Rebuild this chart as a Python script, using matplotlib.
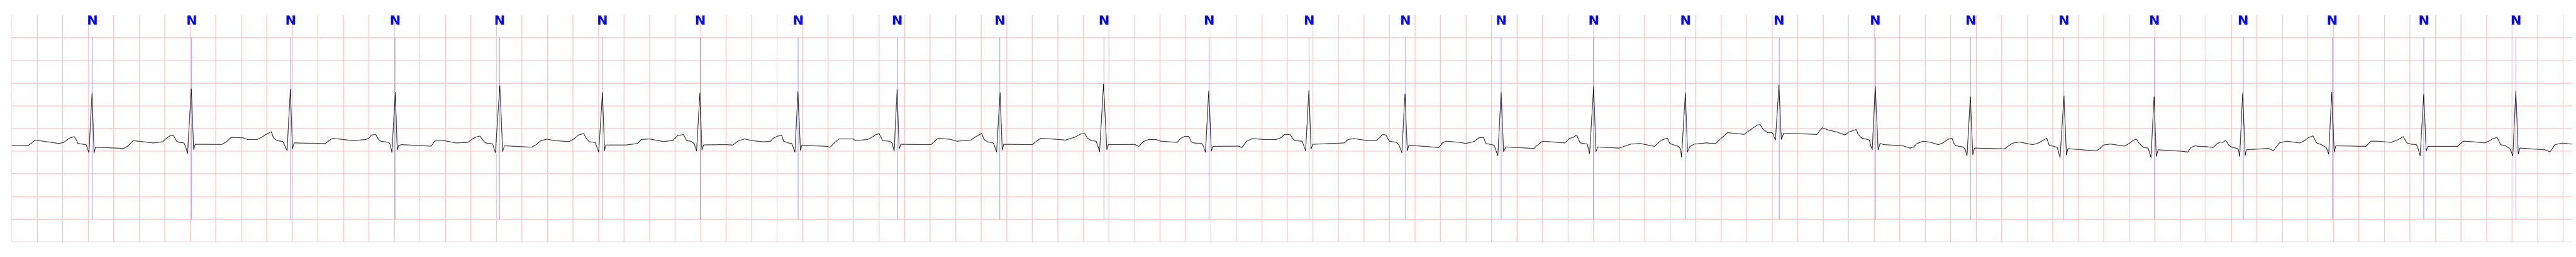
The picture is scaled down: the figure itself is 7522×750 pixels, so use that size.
import numpy as np
import matplotlib
matplotlib.use("Agg")
import matplotlib.pyplot as plt

ecg_t = [
    0.000, 0.130, 0.186, 0.371, 0.408, 0.454, 0.491, 0.510, 0.519, 0.584,
    0.606, 0.630, 0.646, 0.657, 0.879, 0.907, 0.953, 1.018, 1.111, 1.184,
    1.212, 1.240, 1.271, 1.292, 1.314, 1.351, 1.366, 1.379, 1.408, 1.427,
    1.439, 1.647, 1.684, 1.720, 1.813, 1.850, 1.924, 1.961, 1.998, 2.035,
    2.053, 2.081, 2.127, 2.159, 2.185, 2.201, 2.214, 2.460, 2.488, 2.516,
    2.682, 2.775, 2.799, 2.822, 2.855, 2.873, 2.892, 2.957, 2.966, 2.981,
    3.007, 3.023, 3.034, 3.058, 3.289, 3.317, 3.391, 3.483, 3.576, 3.613,
    3.641, 3.672, 3.690, 3.714, 3.770, 3.792, 3.827, 3.849, 3.862, 4.075,
    4.112, 4.149, 4.195, 4.260, 4.371, 4.408, 4.445, 4.485, 4.504, 4.528,
    4.574, 4.602, 4.631, 4.648, 4.657, 4.814, 4.907, 4.934, 4.999, 5.110,
    5.184, 5.221, 5.267, 5.291, 5.323, 5.350, 5.369, 5.395, 5.411, 5.424,
    5.600, 5.654, 5.691, 5.746, 5.802, 5.894, 5.950, 5.968, 6.005, 6.037,
    6.051, 6.088, 6.116, 6.140, 6.164, 6.183, 6.194, 6.393, 6.416, 6.449,
    6.486, 6.597, 6.615, 6.708, 6.745, 6.772, 6.800, 6.828, 6.883, 6.902,
    6.918, 6.941, 6.957, 6.970, 7.207, 7.234, 7.262, 7.355, 7.410, 7.521,
    7.558, 7.604, 7.623, 7.650, 7.697, 7.721, 7.748, 7.765, 7.776, 8.001,
    8.038, 8.066, 8.186, 8.260, 8.334, 8.380, 8.414, 8.430, 8.464, 8.501,
    8.519, 8.528, 8.559, 8.585, 8.596, 8.803, 8.837, 8.868, 8.914, 8.970,
    9.007, 9.136, 9.164, 9.195, 9.228, 9.247, 9.265, 9.330, 9.343, 9.358,
    9.384, 9.404, 9.417, 9.617, 9.644, 9.681, 9.727, 9.820, 9.912, 9.949,
    9.977, 10.023, 10.042, 10.060, 10.116, 10.143, 10.169, 10.186, 10.199, 10.448,
    10.476, 10.522, 10.633, 10.698, 10.726, 10.744, 10.772, 10.800, 10.855, 10.874,
    10.898, 10.922, 10.940, 10.953, 11.188, 11.215, 11.243, 11.354, 11.399, 11.436,
    11.464, 11.501, 11.538, 11.556, 11.602, 11.621, 11.650, 11.676, 11.695, 11.713,
    11.935, 11.954, 12.000, 12.175, 12.212, 12.240, 12.268, 12.295, 12.351, 12.369,
    12.401, 12.419, 12.434, 12.600, 12.693, 12.767, 12.878, 12.933, 12.979, 12.998,
    13.063, 13.081, 13.090, 13.120, 13.137, 13.155, 13.192, 13.284, 13.358, 13.395,
    13.451, 13.580, 13.617, 13.682, 13.706, 13.728, 13.765, 13.802, 13.826, 13.854,
    13.872, 13.891, 14.153, 14.172, 14.194, 14.246, 14.271, 14.308, 14.345, 14.373,
    14.400, 14.437, 14.460, 14.474, 14.502, 14.548, 14.563, 14.572, 14.585, 14.609,
    14.631, 14.646, 14.678, 14.826, 14.881, 14.909, 14.936, 14.983, 15.047, 15.103,
    15.140, 15.177, 15.210, 15.223, 15.241, 15.297, 15.315, 15.328, 15.354, 15.373,
    15.386, 15.620, 15.648, 15.685, 15.740, 15.842, 15.879, 15.925, 15.953, 15.972,
    16.009, 16.036, 16.057, 16.088, 16.107, 16.119, 16.341, 16.369, 16.397, 16.452,
    16.563, 16.591, 16.628, 16.655, 16.674, 16.711, 16.748, 16.770, 16.794, 16.811,
    16.826, 17.007, 17.059, 17.081, 17.118, 17.144, 17.201, 17.257, 17.285, 17.314,
    17.333, 17.355, 17.380, 17.408, 17.446, 17.455, 17.465, 17.489, 17.508, 17.518,
    17.691, 17.729, 17.776, 17.833, 17.936, 17.974, 18.002, 18.040, 18.068, 18.106,
    18.144, 18.163, 18.187, 18.206, 18.219, 18.455, 18.493, 18.540, 18.653, 18.710,
    18.747, 18.776, 18.804, 18.851, 18.864, 18.880, 18.908, 18.927, 18.940, 19.172,
    19.219, 19.295, 19.389, 19.417, 19.455, 19.483, 19.511, 19.549, 19.587, 19.606,
    19.630, 19.649, 19.662, 19.860, 19.898, 19.936, 19.993, 20.068,
]
ecg_mv = [
    -0.381, -0.376, -0.255, -0.331, -0.306, -0.212, -0.179, -0.268, -0.331, -0.356,
    -0.533, 0.780, -0.540, -0.414, -0.439, -0.394, -0.268, -0.288, -0.318, -0.293,
    -0.217, -0.162, -0.159, -0.280, -0.306, -0.318, -0.419, -0.551, 0.874, -0.465,
    -0.348, -0.351, -0.293, -0.197, -0.205, -0.242, -0.242, -0.192, -0.124, -0.071,
    -0.205, -0.268, -0.288, -0.487, 0.874, -0.452, -0.318, -0.331, -0.268, -0.217,
    -0.268, -0.242, -0.217, -0.141, -0.134, -0.230, -0.280, -0.306, -0.343, -0.525,
    0.798, -0.470, -0.374, -0.356, -0.389, -0.275, -0.268, -0.318, -0.306, -0.230,
    -0.187, -0.167, -0.242, -0.318, -0.338, -0.533, 0.944, -0.508, -0.381, -0.412,
    -0.356, -0.268, -0.235, -0.268, -0.288, -0.230, -0.141, -0.111, -0.217, -0.293,
    -0.306, -0.520, 0.798, -0.490, -0.364, -0.364, -0.331, -0.242, -0.230, -0.288,
    -0.263, -0.154, -0.134, -0.268, -0.280, -0.331, -0.500, 0.785, -0.465, -0.361,
    -0.356, -0.364, -0.280, -0.230, -0.268, -0.293, -0.280, -0.217, -0.167, -0.154,
    -0.280, -0.318, -0.331, -0.520, 0.813, -0.482, -0.369, -0.394, -0.414, -0.318,
    -0.230, -0.230, -0.268, -0.242, -0.192, -0.136, -0.111, -0.268, -0.280, -0.318,
    -0.500, 0.864, -0.449, -0.348, -0.356, -0.280, -0.217, -0.237, -0.280, -0.255,
    -0.179, -0.111, -0.242, -0.293, -0.323, -0.520, 0.793, -0.475, -0.348, -0.356,
    -0.268, -0.217, -0.237, -0.255, -0.192, -0.121, -0.111, -0.205, -0.268, -0.280,
    -0.419, -0.515, 0.982, -0.465, -0.356, -0.351, -0.394, -0.293, -0.242, -0.242,
    -0.280, -0.306, -0.217, -0.174, -0.174, -0.293, -0.318, -0.331, -0.394, -0.525,
    0.831, -0.495, -0.394, -0.389, -0.419, -0.280, -0.222, -0.242, -0.242, -0.205,
    -0.129, -0.136, -0.217, -0.268, -0.280, -0.490, 0.838, -0.457, -0.348, -0.318,
    -0.242, -0.222, -0.268, -0.268, -0.192, -0.136, -0.141, -0.280, -0.306, -0.356,
    -0.533, 0.763, -0.490, -0.369, -0.419, -0.318, -0.280, -0.306, -0.331, -0.306,
    -0.288, -0.205, -0.197, -0.331, -0.356, -0.369, -0.601, 0.798, -0.508, -0.407,
    -0.439, -0.381, -0.280, -0.318, -0.217, -0.197, -0.141, -0.318, -0.343, -0.558,
    0.924, -0.508, -0.407, -0.432, -0.343, -0.331, -0.394, -0.255, -0.212, -0.331,
    -0.394, -0.444, -0.629, 0.788, -0.520, -0.394, -0.343, -0.318, -0.331, -0.230,
    -0.091, -0.129, -0.053, 0.073, 0.091, -0.015, -0.091, -0.091, -0.255, 0.965,
    -0.242, -0.104, -0.129, -0.053, 0.015, -0.040, -0.053, -0.078, -0.116, -0.141,
    -0.078, -0.045, -0.020, -0.129, -0.212, -0.242, -0.255, -0.369, -0.465, 0.924,
    -0.475, -0.331, -0.356, -0.381, -0.432, -0.407, -0.331, -0.280, -0.306, -0.356,
    -0.318, -0.242, -0.212, -0.318, -0.381, -0.407, -0.470, -0.601, 0.699, -0.578,
    -0.432, -0.449, -0.394, -0.323, -0.298, -0.356, -0.331, -0.260, -0.212, -0.369,
    -0.394, -0.419, -0.641, 0.722, -0.583, -0.444, -0.495, -0.444, -0.364, -0.343,
    -0.389, -0.343, -0.268, -0.230, -0.318, -0.419, -0.432, -0.641, 0.699, -0.616,
    -0.470, -0.500, -0.520, -0.419, -0.381, -0.394, -0.399, -0.419, -0.343, -0.298,
    -0.306, -0.260, -0.369, -0.419, -0.439, -0.470, -0.616, 0.788, -0.591, -0.470,
    -0.439, -0.490, -0.318, -0.280, -0.318, -0.268, -0.205, -0.162, -0.318, -0.356,
    -0.419, -0.566, 0.798, -0.520, -0.381, -0.394, -0.280, -0.280, -0.306, -0.242,
    -0.179, -0.318, -0.343, -0.356, -0.444, -0.601, 0.755, -0.500, -0.394, -0.394,
    -0.280, -0.293, -0.318, -0.280, -0.217, -0.197, -0.356, -0.381, -0.457, -0.609,
    0.831, -0.566, -0.432, -0.470, -0.515, -0.356, -0.323, -0.343,
]

# beat annotations
beat_t = [
    0.632, 1.410, 2.186, 3.005, 3.823, 4.629, 5.397, 6.164, 6.941, 7.745,
    8.561, 9.386, 10.169, 10.925, 11.676, 12.401, 13.120, 13.854, 14.609, 15.356,
    16.086, 16.796, 17.491, 18.189, 18.908, 19.630,
]
beat_label = ["N"] * len(beat_t)

t_max = 20.072
y_min, y_max = -2.5, 2.5

fig = plt.figure(figsize=(75.22, 7.5), dpi=100)
ax = fig.add_axes([34 / 7522, 44 / 750, 7477 / 7522, 662 / 750])

ax.set_xlim(0, t_max)
ax.set_ylim(y_min, y_max)
ax.set_xticks(np.arange(0, 20.01, 0.2))
ax.set_yticks(np.arange(-2.5, 2.01, 0.5))
ax.grid(True, color="#ffbcbc", linewidth=1.3)
ax.set_axisbelow(True)
ax.tick_params(length=0, labelbottom=False, labelleft=False)
for spine in ax.spines.values():
    spine.set_visible(False)

ax.vlines(beat_t, -2.0, 2.0, color="blue", linewidth=0.8, alpha=0.55)
ax.plot(ecg_t, ecg_mv, color="black", linewidth=1.1)

for t, lab in zip(beat_t, beat_label):
    ax.text(t, y_max, lab, color="blue", fontsize=27.5, fontweight="bold",
            ha="center", va="top")

fig.savefig("out.png", dpi=100)
